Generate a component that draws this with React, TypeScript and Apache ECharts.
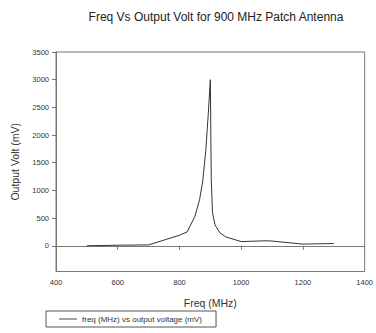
import React, { useEffect, useRef } from "react";
import * as echarts from "echarts";

const freqs = [500, 600, 700, 800, 825, 850, 865, 875, 885, 893, 900, 903, 907, 915, 930, 950, 1000, 1080, 1100, 1200, 1300];
const volts = [0, 10, 15, 190, 250, 530, 830, 1150, 1700, 2350, 3000, 1200, 600, 380, 240, 160, 75, 90, 85, 30, 40];
const yTicks = [0, 500, 1000, 1500, 2000, 2500, 3000, 3500];
const seriesName = "freq (MHz) vs output voltage (mV)";

export default function App() {
  const ref = useRef<HTMLDivElement>(null);
  useEffect(() => {
    document.body.style.margin = "0";
    const chart = echarts.init(ref.current!, null, { renderer: "svg" });
    const font = "Liberation Sans, Arial, sans-serif";
    chart.setOption({
      animation: false,
      backgroundColor: "#fff",
      title: {
        text: "Freq Vs Output Volt for 900 MHz Patch Antenna",
        left: 211,
        top: 6,
        textAlign: "center",
        textStyle: { fontSize: 12, fontWeight: "normal", color: "#222", fontFamily: font },
      },
      legend: {
        left: 46,
        top: 311,
        orient: "horizontal",
        data: [seriesName],
        icon: "path://M0,0L20,0L20,1L0,1Z",
        itemWidth: 18,
        itemHeight: 1,
        itemGap: 4,
        padding: [4, 14, 4, 13],
        borderColor: "#555",
        borderWidth: 1,
        borderRadius: 0,
        textStyle: { fontSize: 8, color: "#333", fontFamily: font },
      },
      grid: {
        left: 56,
        right: 10,
        top: 52,
        bottom: 61.5,
        show: true,
        borderColor: "#777",
        borderWidth: 1,
      },
      xAxis: {
        type: "value",
        min: 400,
        max: 1400,
        interval: 200,
        name: "Freq (MHz)",
        nameLocation: "middle",
        nameGap: 26,
        nameTextStyle: { fontSize: 10.5, color: "#333", fontFamily: font },
        axisLine: { show: true, lineStyle: { color: "#777", width: 1 } },
        axisTick: { show: true, inside: false, length: 4, lineStyle: { color: "#777" } },
        axisLabel: { fontSize: 7.5, color: "#333", margin: 7, fontFamily: font, formatter: (v: number) => String(v) },
        splitLine: { show: false },
      },
      yAxis: {
        type: "value",
        min: -465,
        max: 3500,
        name: "Output Volt (mV)",
        nameLocation: "middle",
        nameGap: 36,
        nameTextStyle: { fontSize: 10.5, color: "#333", fontFamily: font },
        axisLine: { show: true, lineStyle: { color: "#777", width: 1 } },
        axisTick: { show: true, inside: false, length: 4, lineStyle: { color: "#777" }, customValues: yTicks },
        axisLabel: { fontSize: 7.5, color: "#333", margin: 7, fontFamily: font, customValues: yTicks, formatter: (v: number) => String(v) },
        splitLine: { show: false },
      },
      series: [
        {
          name: seriesName,
          type: "line",
          data: freqs.map((f, i) => [f, volts[i]]),
          symbol: "none",
          lineStyle: { color: "#333", width: 1 },
          itemStyle: { color: "#333" },
        },
      ],
    });
    return () => chart.dispose();
  }, []);
  return <div ref={ref} style={{ width: 376, height: 333 }} />;
}
